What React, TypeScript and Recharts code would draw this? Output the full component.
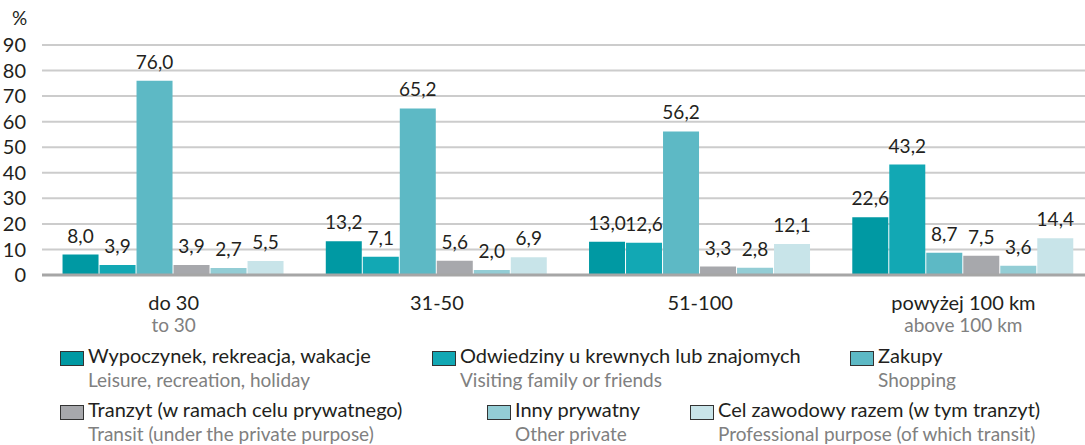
import { BarChart, Bar, XAxis, YAxis, CartesianGrid, LabelList } from "recharts";

const categories = ["do 30", "31-50", "51-100", "powyżej 100 km"];
const categoriesEn = ["to 30", "", "", "above 100 km"];

const leisure = [8.0, 13.2, 13.0, 22.6];
const visiting = [3.9, 7.1, 12.6, 43.2];
const shopping = [76.0, 65.2, 56.2, 8.7];
const transit = [3.9, 5.6, 3.3, 7.5];
const otherPrivate = [2.7, 2.0, 2.8, 3.6];
const professional = [5.5, 6.9, 12.1, 14.4];

const yTicks = [0, 10, 20, 30, 40, 50, 60, 70, 80, 90];

const seriesNames = [
  "Wypoczynek, rekreacja, wakacje",
  "Odwiedziny u krewnych lub znajomych",
  "Zakupy",
  "Tranzyt (w ramach celu prywatnego)",
  "Inny prywatny",
  "Cel zawodowy razem (w tym tranzyt)",
];
const seriesNamesEn = [
  "Leisure, recreation, holiday",
  "Visiting family or friends",
  "Shopping",
  "Transit (under the private purpose)",
  "Other private",
  "Professional purpose (of which transit)",
];

const colors = ["#0099a3", "#12a8b4", "#5db9c5", "#a7a8ac", "#93cdd5", "#c8e4e9"];
const seriesKeys = ["leisure", "visiting", "shopping", "transit", "otherPrivate", "professional"];

const data = categories.map((c, i) => ({
  name: c,
  leisure: leisure[i],
  visiting: visiting[i],
  shopping: shopping[i],
  transit: transit[i],
  otherPrivate: otherPrivate[i],
  professional: professional[i],
}));

const FONT = "Lato, 'Noto Sans', sans-serif";

// legend item placement
const legendSpots = [
  { left: 60, top: 0 },
  { left: 432, top: 0 },
  { left: 850, top: 0 },
  { left: 60, top: 54 },
  { left: 487, top: 54 },
  { left: 690, top: 54 },
];

const fmt = (v: any) => Number(v).toFixed(1).replace(".", ",");

function CategoryTick(props: any) {
  const { x, y, payload, index } = props;
  return (
    <g>
      <text x={x} y={y + 27} textAnchor="middle" fontSize={20} fill="#231f20" fontFamily={FONT}>
        {payload.value}
      </text>
      <text x={x} y={y + 49} textAnchor="middle" fontSize={19} fill="#808080" fontFamily={FONT}>
        {categoriesEn[index]}
      </text>
    </g>
  );
}

function LegendBlock() {
  return (
    <div style={{ position: "absolute", left: 0, top: 343, width: 1085, height: 100, fontFamily: FONT }}>
      {seriesNames.map((n, i) => (
        <div key={n} style={{ position: "absolute", left: legendSpots[i].left, top: legendSpots[i].top }}>
          <div
            style={{
              position: "absolute",
              left: 0,
              top: 8,
              width: 22,
              height: 13,
              background: colors[i],
              border: "1px solid #333",
            }}
          />
          <div style={{ marginLeft: 28, fontSize: 20, color: "#231f20", lineHeight: "25px", whiteSpace: "nowrap" }}>{n}</div>
          <div style={{ marginLeft: 28, fontSize: 19, color: "#808080", lineHeight: "24px", whiteSpace: "nowrap" }}>
            {seriesNamesEn[i]}
          </div>
        </div>
      ))}
    </div>
  );
}

export default function App() {
  return (
    <div style={{ position: "absolute", left: 0, top: 0, width: 1085, height: 445, overflow: "hidden", background: "#fff" }}>
      <div style={{ position: "absolute", left: 12, top: 6, fontSize: 19, color: "#231f20", fontFamily: FONT }}>%</div>
      <BarChart
        width={1100}
        height={445}
        data={data}
        margin={{ top: 45, right: 5, left: 0, bottom: 110 }}
        barCategoryGap="7.8%"
        barGap={1}
      >
        <CartesianGrid vertical={false} stroke="#cccccc" strokeWidth={2} />
        <XAxis
          dataKey="name"
          height={60}
          tick={<CategoryTick />}
          tickLine={false}
          axisLine={{ stroke: "#a6a6a6", strokeWidth: 3 }}
          interval={0}
        />
        <YAxis
          width={42}
          domain={[0, 90]}
          ticks={yTicks}
          interval={0}
          tickLine={false}
          axisLine={false}
          tickMargin={10}
          tick={{ fill: "#231f20", fontSize: 20, fontFamily: FONT }}
        />
        {seriesKeys.map((k, i) => (
          <Bar key={k} dataKey={k} name={seriesNames[i]} fill={colors[i]} isAnimationActive={false}>
            <LabelList
              dataKey={k}
              position="top"
              offset={12}
              formatter={fmt}
              style={{ fill: "#231f20", fontSize: 19, fontFamily: FONT }}
            />
          </Bar>
        ))}
      </BarChart>
      <LegendBlock />
    </div>
  );
}
